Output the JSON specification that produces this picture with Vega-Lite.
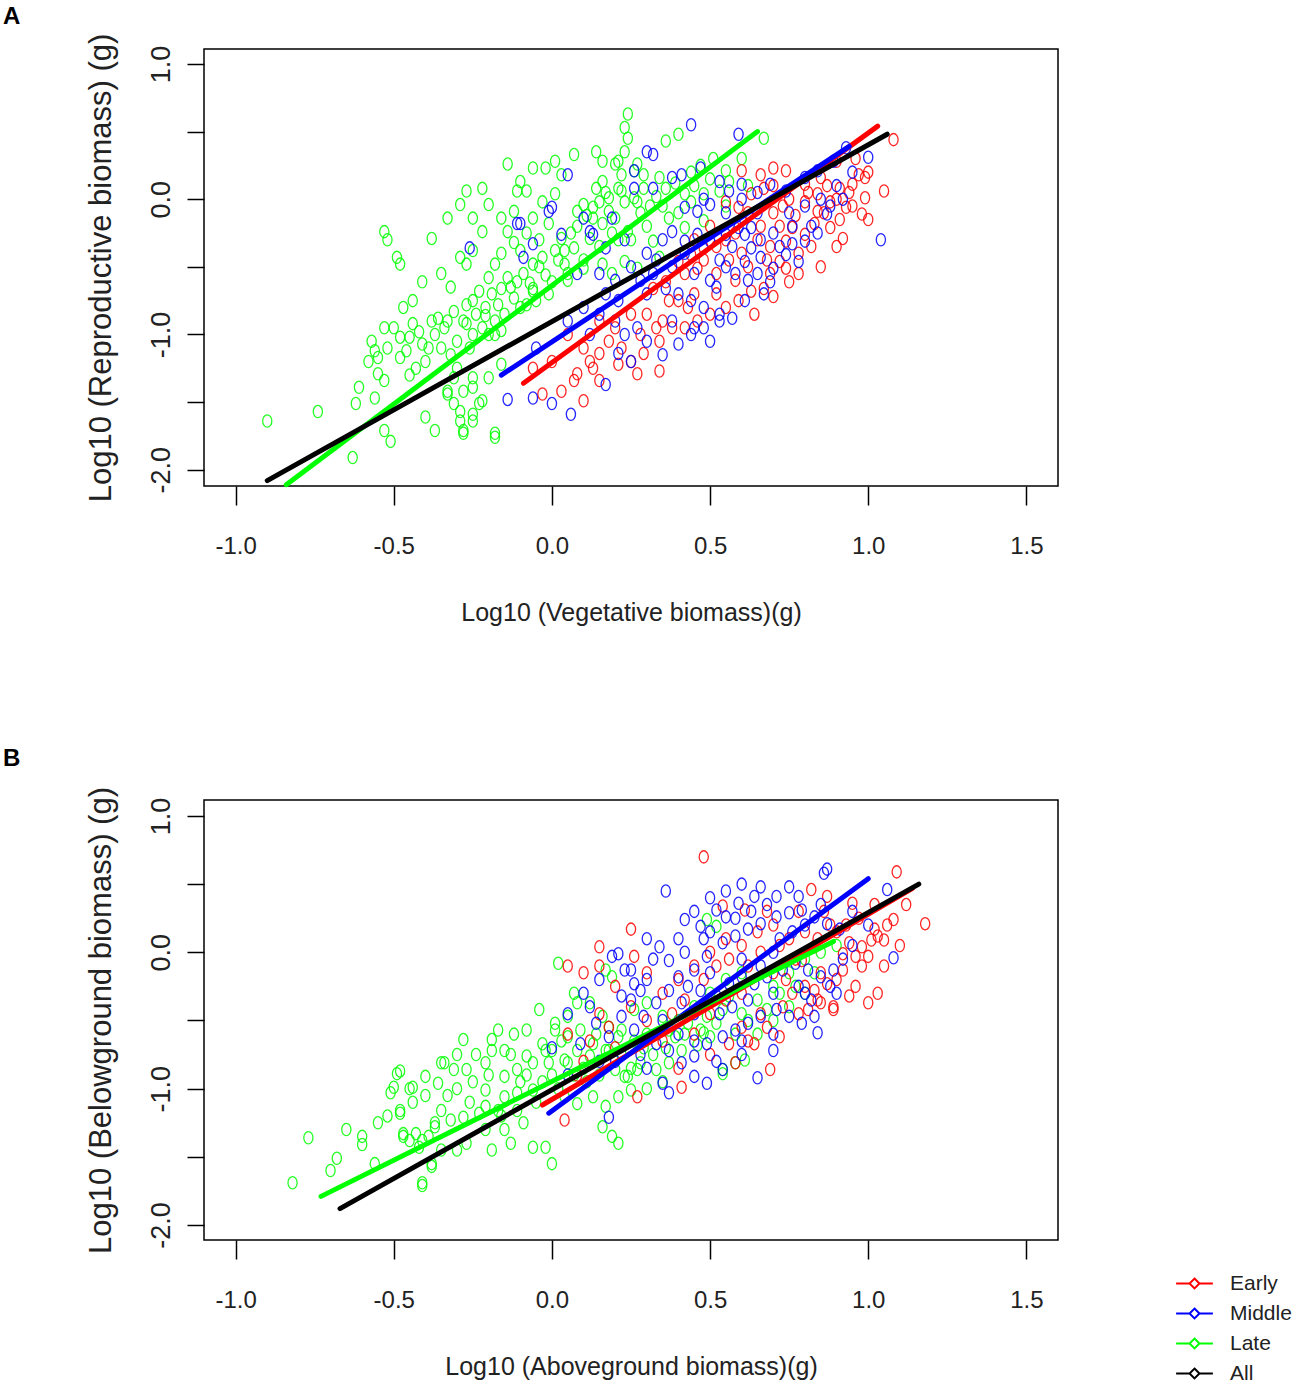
{
"$schema":"https://vega.github.io/schema/vega-lite/v6.json",
"background":"white",
"padding":{"left":2,"top":4,"right":4,"bottom":4},
"spacing":119,
"config":{
 "view":{"stroke":"black","strokeWidth":1.5},
 "axis":{"grid":false,"domain":false,"tickColor":"black","tickWidth":1.5,"labelColor":"#222","titleColor":"#222","titleFontWeight":"normal"},
 "title":{"anchor":"start","frame":"group","fontWeight":"bold","font":"Liberation Sans","fontSize":24,"color":"black","offset":4}
},
"resolve":{"scale":{"color":"independent"},"legend":{"color":"independent"}},
"datasets":{
"linA":[{"g":"E","x":-0.09,"y":-1.36},{"g":"E","x":1.03,"y":0.54},{"g":"M","x":-0.16,"y":-1.3},{"g":"M","x":0.94,"y":0.39},{"g":"L","x":-0.84,"y":-2.11},{"g":"L","x":0.65,"y":0.5},{"g":"A","x":-0.9,"y":-2.08},{"g":"A","x":1.06,"y":0.48}],
"linB":[{"g":"E","x":-0.03,"y":-1.12},{"g":"E","x":1.14,"y":0.47},{"g":"M","x":-0.01,"y":-1.18},{"g":"M","x":1.0,"y":0.54},{"g":"L","x":-0.73,"y":-1.79},{"g":"L","x":0.89,"y":0.08},{"g":"A","x":-0.67,"y":-1.88},{"g":"A","x":1.16,"y":0.5}],
"ptsA":[
{"g":"L","x":-0.9,"y":-1.64},{"g":"L","x":-0.74,"y":-1.57},{"g":"L","x":-0.63,"y":-1.91},{"g":"L","x":-0.53,"y":-0.24},{"g":"L","x":-0.52,"y":-0.3},{"g":"L","x":-0.49,"y":-0.43},{"g":"L","x":-0.48,"y":-0.48},{"g":"L","x":-0.61,"y":-1.39},{"g":"L","x":-0.62,"y":-1.51},{"g":"L","x":-0.53,"y":-1.71},{"g":"L","x":-0.51,"y":-1.79},{"g":"L","x":-0.53,"y":-0.95},{"g":"L","x":-0.5,"y":-0.95},{"g":"L","x":-0.56,"y":-1.12},{"g":"L","x":-0.55,"y":-1.17},{"g":"L","x":-0.52,"y":-1.1},{"g":"L","x":-0.55,"y":-1.29},{"g":"L","x":-0.53,"y":-1.34},{"g":"L","x":-0.56,"y":-1.47},{"g":"L","x":-0.48,"y":-1.17},{"g":"L","x":-0.45,"y":-1.02},{"g":"L","x":-0.48,"y":-1.02},{"g":"L","x":-0.43,"y":-1.25},{"g":"L","x":-0.41,"y":-1.07},{"g":"L","x":-0.39,"y":-1.1},{"g":"L","x":-0.41,"y":-0.61},{"g":"L","x":-0.38,"y":-0.29},{"g":"L","x":-0.33,"y":-0.14},{"g":"L","x":-0.38,"y":-0.9},{"g":"L","x":-0.36,"y":-0.88},{"g":"L","x":-0.33,"y":-0.9},{"g":"L","x":-0.31,"y":-0.83},{"g":"L","x":-0.4,"y":-1.61},{"g":"L","x":-0.37,"y":-1.71},{"g":"L","x":-0.33,"y":-1.44},{"g":"L","x":-0.31,"y":-1.51},{"g":"L","x":-0.29,"y":-1.64},{"g":"L","x":-0.28,"y":-1.71},{"g":"L","x":-0.25,"y":-1.59},{"g":"L","x":-0.23,"y":-1.51},{"g":"L","x":-0.18,"y":-1.76},{"g":"L","x":-0.29,"y":-0.04},{"g":"L","x":-0.27,"y":0.06},{"g":"L","x":-0.22,"y":0.08},{"g":"L","x":-0.2,"y":-0.04},{"g":"L","x":-0.25,"y":-0.14},{"g":"L","x":-0.22,"y":-0.24},{"g":"L","x":-0.29,"y":-0.43},{"g":"L","x":-0.27,"y":-0.48},{"g":"L","x":-0.25,"y":-0.38},{"g":"L","x":-0.23,"y":-0.68},{"g":"L","x":-0.27,"y":-0.78},{"g":"L","x":-0.21,"y":-0.8},{"g":"L","x":-0.18,"y":-0.9},{"g":"L","x":-0.16,"y":-0.97},{"g":"L","x":-0.2,"y":-1.0},{"g":"L","x":-0.16,"y":-0.14},{"g":"L","x":-0.14,"y":-0.24},{"g":"L","x":-0.12,"y":-0.09},{"g":"L","x":-0.11,"y":0.06},{"g":"L","x":-0.14,"y":0.26},{"g":"L","x":-0.1,"y":0.13},{"g":"L","x":-0.06,"y":0.23},{"g":"L","x":-0.02,"y":0.23},{"g":"L","x":0.01,"y":0.28},{"g":"L","x":0.03,"y":0.18},{"g":"L","x":0.07,"y":0.33},{"g":"L","x":0.14,"y":0.35},{"g":"L","x":0.16,"y":0.28},{"g":"L","x":0.2,"y":0.26},{"g":"L","x":0.24,"y":0.63},{"g":"L","x":0.23,"y":0.53},{"g":"L","x":0.24,"y":0.45},{"g":"L","x":0.23,"y":0.35},{"g":"L","x":-0.08,"y":0.06},{"g":"L","x":-0.03,"y":-0.02},{"g":"L","x":0.01,"y":0.04},{"g":"L","x":-0.06,"y":-0.14},{"g":"L","x":-0.01,"y":-0.18},{"g":"L","x":0.03,"y":-0.29},{"g":"L","x":-0.1,"y":-0.38},{"g":"L","x":-0.06,"y":-0.48},{"g":"L","x":-0.03,"y":-0.43},{"g":"L","x":0.01,"y":-0.38},{"g":"L","x":0.04,"y":-0.48},{"g":"L","x":0.07,"y":-0.36},{"g":"L","x":-0.18,"y":-0.48},{"g":"L","x":-0.2,"y":-0.58},{"g":"L","x":-0.14,"y":-0.58},{"g":"L","x":-0.12,"y":-0.73},{"g":"L","x":-0.08,"y":-0.78},{"g":"L","x":-0.06,"y":-0.68},{"g":"L","x":-0.01,"y":-0.7},{"g":"L","x":0.1,"y":-0.04},{"g":"L","x":0.14,"y":0.08},{"g":"L","x":0.18,"y":0.01},{"g":"L","x":0.22,"y":0.06},{"g":"L","x":0.26,"y":0.01},{"g":"L","x":0.29,"y":0.08},{"g":"L","x":0.22,"y":0.18},{"g":"L","x":0.26,"y":0.21},{"g":"L","x":0.12,"y":-0.29},{"g":"L","x":0.16,"y":-0.18},{"g":"L","x":0.2,"y":-0.14},{"g":"L","x":0.24,"y":-0.24},{"g":"L","x":-0.16,"y":-1.22},{"g":"L","x":-0.2,"y":-1.32},{"g":"L","x":-0.25,"y":-1.32},{"g":"L","x":-0.31,"y":-1.32},{"g":"L","x":-0.33,"y":-1.42},{"g":"L","x":-0.28,"y":-1.42},{"g":"L","x":0.36,"y":0.43},{"g":"L","x":0.4,"y":0.48},{"g":"L","x":0.67,"y":0.45},{"g":"L","x":0.21,"y":0.28},{"g":"L","x":0.27,"y":0.26},{"g":"L","x":0.29,"y":0.18},{"g":"L","x":0.34,"y":0.16},{"g":"L","x":0.55,"y":0.21},{"g":"L","x":0.16,"y":0.13},{"g":"L","x":0.21,"y":0.08},{"g":"L","x":0.23,"y":-0.02},{"g":"L","x":0.27,"y":-0.02},{"g":"L","x":0.08,"y":-0.09},{"g":"L","x":0.13,"y":-0.14},{"g":"L","x":0.18,"y":-0.09},{"g":"L","x":0.42,"y":0.04},{"g":"L","x":0.44,"y":-0.02},{"g":"L","x":0.48,"y":0.04},{"g":"L","x":0.53,"y":0.06},{"g":"L","x":0.56,"y":0.13},{"g":"L","x":0.37,"y":-0.14},{"g":"L","x":0.42,"y":-0.21},{"g":"L","x":0.48,"y":-0.16},{"g":"L","x":0.32,"y":-0.31},{"g":"L","x":0.34,"y":-0.43},{"g":"L","x":0.23,"y":-0.46},{"g":"L","x":0.27,"y":-0.51},{"g":"L","x":0.19,"y":-0.55},{"g":"L","x":-0.25,"y":-0.75},{"g":"L","x":-0.21,"y":-0.86},{"g":"L","x":-0.28,"y":-0.9},{"g":"L","x":-0.22,"y":-0.95},{"g":"L","x":-0.18,"y":-1.0},{"g":"L","x":-0.16,"y":-0.66},{"g":"L","x":-0.11,"y":-0.61},{"g":"L","x":-0.06,"y":-0.66},{"g":"L","x":0.0,"y":-0.61},{"g":"L","x":0.05,"y":-0.55},{"g":"L","x":0.1,"y":-0.51},{"g":"L","x":0.16,"y":-0.48},{"g":"L","x":-0.3,"y":-1.25},{"g":"L","x":-0.25,"y":-1.39},{"g":"L","x":-0.22,"y":-1.49},{"g":"L","x":-0.29,"y":-1.57},{"g":"L","x":-0.25,"y":-1.64},{"g":"L","x":-0.28,"y":-1.73},{"g":"L","x":-0.18,"y":-1.73},{"g":"L","x":-0.45,"y":-1.3},{"g":"L","x":-0.4,"y":-1.2},{"g":"L","x":-0.35,"y":-1.1},{"g":"L","x":-0.3,"y":-1.05},{"g":"L","x":-0.25,"y":-1.0},{"g":"L","x":-0.15,"y":-0.85},{"g":"L","x":-0.1,"y":-0.8},{"g":"L","x":-0.05,"y":-0.75},{"g":"L","x":0.05,"y":-0.6},{"g":"L","x":0.1,"y":-0.45},{"g":"L","x":0.15,"y":-0.35},{"g":"L","x":0.25,"y":-0.3},{"g":"L","x":0.3,"y":-0.2},{"g":"L","x":0.35,"y":-0.05},{"g":"L","x":0.4,"y":-0.1},{"g":"L","x":0.45,"y":0.1},{"g":"L","x":0.5,"y":0.15},{"g":"L","x":0.6,"y":0.3},{"g":"L","x":0.55,"y":-0.05},{"g":"L","x":0.62,"y":0.1},
{"g":"L","x":-0.58,"y":-1.2},{"g":"L","x":-0.57,"y":-1.05},{"g":"L","x":-0.46,"y":-1.12},{"g":"L","x":-0.44,"y":-0.92},{"g":"L","x":-0.42,"y":-0.98},{"g":"L","x":-0.37,"y":-1.0},{"g":"L","x":-0.34,"y":-0.95},{"g":"L","x":-0.32,"y":-1.15},{"g":"L","x":-0.27,"y":-0.92},{"g":"L","x":-0.26,"y":-1.1},{"g":"L","x":-0.24,"y":-0.85},{"g":"L","x":-0.19,"y":-0.7},{"g":"L","x":-0.17,"y":-0.78},{"g":"L","x":-0.13,"y":-0.65},{"g":"L","x":-0.09,"y":-0.55},{"g":"L","x":-0.07,"y":-0.62},{"g":"L","x":-0.04,"y":-0.5},{"g":"L","x":-0.02,"y":-0.56},{"g":"L","x":0.02,"y":-0.45},{"g":"L","x":0.04,"y":-0.38},{"g":"L","x":0.06,"y":-0.25},{"g":"L","x":0.08,"y":-0.2},{"g":"L","x":0.11,"y":-0.12},{"g":"L","x":0.13,"y":-0.06},{"g":"L","x":0.15,"y":-0.02},{"g":"L","x":0.17,"y":0.05},{"g":"L","x":0.19,"y":-0.25},{"g":"L","x":0.21,"y":-0.3},{"g":"L","x":0.28,"y":-0.1},{"g":"L","x":0.31,"y":-0.05},{"g":"L","x":0.33,"y":0.02},{"g":"L","x":0.36,"y":0.08},{"g":"L","x":0.39,"y":0.12},{"g":"L","x":0.44,"y":0.2},{"g":"L","x":0.47,"y":0.25},{"g":"L","x":0.51,"y":0.3},{"g":"L","x":-0.12,"y":-0.32},{"g":"L","x":-0.08,"y":-0.25},{"g":"L","x":-0.04,"y":-0.3},{"g":"L","x":-0.16,"y":-0.4},{"g":"L","x":-0.35,"y":-0.55},{"g":"L","x":-0.32,"y":-0.65},{"g":"L","x":-0.44,"y":-0.75},{"g":"L","x":-0.47,"y":-0.8},
{"g":"E","x":1.08,"y":0.44},{"g":"E","x":1.05,"y":0.06},{"g":"E","x":0.99,"y":0.01},{"g":"E","x":0.98,"y":-0.11},{"g":"E","x":0.88,"y":-0.21},{"g":"E","x":0.92,"y":-0.29},{"g":"E","x":0.95,"y":0.11},{"g":"E","x":0.99,"y":0.16},{"g":"E","x":0.97,"y":0.18},{"g":"E","x":0.91,"y":0.08},{"g":"E","x":0.85,"y":0.16},{"g":"E","x":0.84,"y":0.04},{"g":"E","x":0.6,"y":0.21},{"g":"E","x":0.66,"y":0.18},{"g":"E","x":0.7,"y":0.23},{"g":"E","x":0.74,"y":0.21},{"g":"E","x":0.8,"y":0.11},{"g":"E","x":0.72,"y":-0.46},{"g":"E","x":0.74,"y":-0.51},{"g":"E","x":0.75,"y":-0.61},{"g":"E","x":0.69,"y":-0.55},{"g":"E","x":0.67,"y":-0.66},{"g":"E","x":0.63,"y":-0.68},{"g":"E","x":0.59,"y":-0.75},{"g":"E","x":0.55,"y":-0.8},{"g":"E","x":0.5,"y":-0.85},{"g":"E","x":0.46,"y":-0.9},{"g":"E","x":0.42,"y":-0.95},{"g":"E","x":0.38,"y":-0.95},{"g":"E","x":0.34,"y":-1.05},{"g":"E","x":0.29,"y":-1.14},{"g":"E","x":0.25,"y":-1.2},{"g":"E","x":0.21,"y":-1.22},{"g":"E","x":0.27,"y":-1.29},{"g":"E","x":0.34,"y":-1.27},{"g":"E","x":0.15,"y":-1.14},{"g":"E","x":0.13,"y":-1.25},{"g":"E","x":0.08,"y":-1.29},{"g":"E","x":0.15,"y":-1.34},{"g":"E","x":0.03,"y":-1.42},{"g":"E","x":0.1,"y":-1.49},{"g":"E","x":0.07,"y":-1.34},{"g":"E","x":-0.03,"y":-1.44},{"g":"E","x":-0.06,"y":-1.25},{"g":"E","x":0.32,"y":-0.66},{"g":"E","x":0.36,"y":-0.61},{"g":"E","x":0.42,"y":-0.55},{"g":"E","x":0.46,"y":-0.51},{"g":"E","x":0.4,"y":-0.46},{"g":"E","x":0.44,"y":-0.41},{"g":"E","x":0.48,"y":-0.36},{"g":"E","x":0.55,"y":-0.02},{"g":"E","x":0.59,"y":-0.06},{"g":"E","x":0.63,"y":0.04},{"g":"E","x":0.67,"y":0.08},{"g":"E","x":0.8,"y":-0.02},{"g":"E","x":0.84,"y":-0.09},{"g":"E","x":0.88,"y":-0.02},{"g":"E","x":0.93,"y":-0.06},{"g":"E","x":0.76,"y":-0.21},{"g":"E","x":0.8,"y":-0.26},{"g":"E","x":0.74,"y":-0.31},{"g":"E","x":0.5,"y":-0.2},{"g":"E","x":0.55,"y":-0.3},{"g":"E","x":0.6,"y":-0.4},{"g":"E","x":0.65,"y":-0.3},{"g":"E","x":0.7,"y":-0.1},{"g":"E","x":0.75,"y":0.0},{"g":"E","x":0.78,"y":-0.4},{"g":"E","x":0.82,"y":-0.35},{"g":"E","x":0.86,"y":-0.1},{"g":"E","x":0.9,"y":0.0},{"g":"E","x":0.6,"y":-0.15},{"g":"E","x":0.52,"y":-0.55},{"g":"E","x":0.4,"y":-0.75},{"g":"E","x":0.45,"y":-0.7},{"g":"E","x":0.3,"y":-0.85},{"g":"E","x":0.35,"y":-0.9},{"g":"E","x":0.2,"y":-0.95},{"g":"E","x":0.25,"y":-0.85},{"g":"E","x":0.1,"y":-1.1},{"g":"E","x":0.05,"y":-1.0},{"g":"E","x":0.15,"y":-0.9},{"g":"E","x":0.0,"y":-1.2},{"g":"E","x":0.58,"y":-0.6},{"g":"E","x":0.68,"y":-0.45},{"g":"E","x":0.72,"y":-0.2},{"g":"E","x":0.95,"y":-0.05},{"g":"E","x":1.0,"y":0.2},{"g":"E","x":0.96,"y":0.3},{"g":"E","x":0.9,"y":0.28},{"g":"E","x":0.7,"y":0.1},
{"g":"E","x":0.45,"y":-0.3},{"g":"E","x":0.48,"y":-0.45},{"g":"E","x":0.52,"y":-0.35},{"g":"E","x":0.56,"y":-0.45},{"g":"E","x":0.62,"y":-0.5},{"g":"E","x":0.66,"y":-0.2},{"g":"E","x":0.69,"y":-0.35},{"g":"E","x":0.73,"y":-0.05},{"g":"E","x":0.77,"y":-0.12},{"g":"E","x":0.81,"y":0.05},{"g":"E","x":0.83,"y":-0.18},{"g":"E","x":0.87,"y":0.1},{"g":"E","x":0.91,"y":-0.15},{"g":"E","x":0.94,"y":0.05},{"g":"E","x":0.62,"y":-0.1},{"g":"E","x":0.58,"y":-0.25},{"g":"E","x":0.43,"y":-0.8},{"g":"E","x":0.37,"y":-0.75},{"g":"E","x":0.33,"y":-0.95},{"g":"E","x":0.28,"y":-1.0},{"g":"E","x":0.22,"y":-1.1},{"g":"E","x":0.18,"y":-1.05},{"g":"E","x":0.12,"y":-1.2},{"g":"E","x":0.52,"y":-0.7},{"g":"E","x":0.64,"y":-0.85},{"g":"E","x":0.7,"y":-0.72},{"g":"E","x":0.78,"y":-0.55},{"g":"E","x":0.85,"y":-0.5},{"g":"E","x":0.9,"y":-0.35},{"g":"E","x":1.0,"y":-0.15},
{"g":"M","x":0.44,"y":0.55},{"g":"M","x":0.59,"y":0.48},{"g":"M","x":1.0,"y":0.31},{"g":"M","x":1.04,"y":-0.3},{"g":"M","x":0.87,"y":-0.11},{"g":"M","x":0.76,"y":-0.33},{"g":"M","x":-0.26,"y":-0.36},{"g":"M","x":0.05,"y":0.18},{"g":"M","x":0.26,"y":0.21},{"g":"M","x":0.26,"y":0.08},{"g":"M","x":0.32,"y":0.33},{"g":"M","x":-0.06,"y":-1.47},{"g":"M","x":0.0,"y":-1.51},{"g":"M","x":0.06,"y":-1.59},{"g":"M","x":0.17,"y":-1.37},{"g":"M","x":-0.14,"y":-1.48},{"g":"M","x":-0.11,"y":-0.18},{"g":"M","x":-0.06,"y":-0.33},{"g":"M","x":-0.09,"y":-0.43},{"g":"M","x":0.0,"y":-0.06},{"g":"M","x":0.03,"y":-0.26},{"g":"M","x":0.1,"y":-0.14},{"g":"M","x":0.19,"y":-0.14},{"g":"M","x":0.13,"y":-0.26},{"g":"M","x":0.17,"y":-0.36},{"g":"M","x":0.32,"y":0.08},{"g":"M","x":0.38,"y":0.16},{"g":"M","x":0.41,"y":0.18},{"g":"M","x":0.47,"y":0.23},{"g":"M","x":0.53,"y":0.13},{"g":"M","x":0.56,"y":0.06},{"g":"M","x":0.6,"y":0.11},{"g":"M","x":0.42,"y":-0.06},{"g":"M","x":0.46,"y":-0.09},{"g":"M","x":0.5,"y":-0.04},{"g":"M","x":0.38,"y":-0.24},{"g":"M","x":0.42,"y":-0.31},{"g":"M","x":0.46,"y":-0.26},{"g":"M","x":0.5,"y":-0.31},{"g":"M","x":0.55,"y":-0.26},{"g":"M","x":0.59,"y":-0.21},{"g":"M","x":0.63,"y":-0.21},{"g":"M","x":0.61,"y":-0.26},{"g":"M","x":0.63,"y":-0.36},{"g":"M","x":0.66,"y":-0.43},{"g":"M","x":0.7,"y":-0.51},{"g":"M","x":0.69,"y":-0.61},{"g":"M","x":0.32,"y":-0.55},{"g":"M","x":0.36,"y":-0.66},{"g":"M","x":0.4,"y":-0.7},{"g":"M","x":0.44,"y":-0.75},{"g":"M","x":0.48,"y":-0.8},{"g":"M","x":0.53,"y":-0.85},{"g":"M","x":0.57,"y":-0.88},{"g":"M","x":0.61,"y":-0.75},{"g":"M","x":0.4,"y":-1.07},{"g":"M","x":0.44,"y":-1.0},{"g":"M","x":0.48,"y":-0.95},{"g":"M","x":0.53,"y":-0.9},{"g":"M","x":0.21,"y":-1.14},{"g":"M","x":0.25,"y":-1.2},{"g":"M","x":0.23,"y":-1.0},{"g":"M","x":0.27,"y":-0.95},{"g":"M","x":0.1,"y":-0.8},{"g":"M","x":0.15,"y":-0.85},{"g":"M","x":0.17,"y":-0.7},{"g":"M","x":0.21,"y":-0.75},{"g":"M","x":0.61,"y":-0.46},{"g":"M","x":0.65,"y":-0.55},{"g":"M","x":0.74,"y":-0.41},{"g":"M","x":0.78,"y":-0.46},{"g":"M","x":0.8,"y":-0.31},{"g":"M","x":0.69,"y":0.11},{"g":"M","x":0.74,"y":0.06},{"g":"M","x":0.8,"y":0.16},{"g":"M","x":0.84,"y":0.21},{"g":"M","x":0.89,"y":0.28},{"g":"M","x":0.93,"y":0.38},{"g":"M","x":-0.1,"y":-0.18},{"g":"M","x":-0.01,"y":-0.09},{"g":"M","x":0.12,"y":-0.24},{"g":"M","x":0.3,"y":0.35},{"g":"M","x":0.3,"y":-0.4},{"g":"M","x":0.35,"y":-0.3},{"g":"M","x":0.25,"y":-0.5},{"g":"M","x":0.55,"y":-0.5},{"g":"M","x":0.65,"y":-0.1},{"g":"M","x":0.7,"y":-0.25},{"g":"M","x":0.75,"y":-0.1},{"g":"M","x":0.85,"y":0.0},{"g":"M","x":0.9,"y":0.1},{"g":"M","x":0.95,"y":0.2},{"g":"M","x":0.2,"y":-0.6},{"g":"M","x":0.05,"y":-0.9},{"g":"M","x":-0.05,"y":-1.1},{"g":"M","x":0.3,"y":-0.7},{"g":"M","x":0.52,"y":-0.65},{"g":"M","x":0.57,"y":-0.35},{"g":"M","x":0.67,"y":-0.7},{"g":"M","x":0.82,"y":-0.2},
{"g":"M","x":0.28,"y":-0.6},{"g":"M","x":0.33,"y":-0.45},{"g":"M","x":0.38,"y":-0.5},{"g":"M","x":0.42,"y":-0.4},{"g":"M","x":0.45,"y":-0.55},{"g":"M","x":0.5,"y":-0.6},{"g":"M","x":0.53,"y":-0.45},{"g":"M","x":0.58,"y":-0.55},{"g":"M","x":0.62,"y":-0.6},{"g":"M","x":0.66,"y":-0.3},{"g":"M","x":0.72,"y":-0.35},{"g":"M","x":0.76,"y":-0.2},{"g":"M","x":0.8,"y":-0.05},{"g":"M","x":0.84,"y":-0.25},{"g":"M","x":0.88,"y":-0.05},{"g":"M","x":0.92,"y":0.0},{"g":"M","x":0.55,"y":-0.1},{"g":"M","x":0.6,"y":0.0},{"g":"M","x":0.65,"y":0.05},{"g":"M","x":0.48,"y":0.0},{"g":"M","x":0.38,"y":-0.9},{"g":"M","x":0.45,"y":-0.95},{"g":"M","x":0.5,"y":-1.05},{"g":"M","x":0.35,"y":-1.15},{"g":"M","x":0.3,"y":-1.05},{"g":"M","x":0.2,"y":-0.9},{"g":"M","x":0.12,"y":-1.0},{"g":"M","x":0.08,"y":-0.55},{"g":"M","x":0.23,"y":-0.3},{"g":"M","x":0.15,"y":-0.55}
],
"ptsB":[
{"g":"L","x":-0.82,"y":-1.69},{"g":"L","x":-0.77,"y":-1.36},{"g":"L","x":-0.68,"y":-1.51},{"g":"L","x":-0.6,"y":-1.41},{"g":"L","x":-0.49,"y":-0.89},{"g":"L","x":-0.5,"y":-0.99},{"g":"L","x":-0.51,"y":-1.03},{"g":"L","x":-0.45,"y":-1.0},{"g":"L","x":-0.48,"y":-1.16},{"g":"L","x":-0.4,"y":-0.91},{"g":"L","x":-0.36,"y":-0.96},{"g":"L","x":-0.35,"y":-0.81},{"g":"L","x":-0.47,"y":-1.33},{"g":"L","x":-0.43,"y":-1.33},{"g":"L","x":-0.45,"y":-1.38},{"g":"L","x":-0.41,"y":-1.38},{"g":"L","x":-0.37,"y":-1.28},{"g":"L","x":-0.35,"y":-1.16},{"g":"L","x":-0.38,"y":-1.55},{"g":"L","x":-0.41,"y":-1.69},{"g":"L","x":-0.56,"y":-1.55},{"g":"L","x":-0.48,"y":-0.87},{"g":"L","x":-0.44,"y":-0.99},{"g":"L","x":-0.48,"y":-1.18},{"g":"L","x":-0.34,"y":-0.81},{"g":"L","x":-0.31,"y":-0.86},{"g":"L","x":-0.37,"y":-1.25},{"g":"L","x":-0.32,"y":-1.23},{"g":"L","x":-0.28,"y":-1.21},{"g":"L","x":-0.23,"y":-1.18},{"g":"L","x":-0.47,"y":-1.35},{"g":"L","x":-0.42,"y":-1.43},{"g":"L","x":-0.39,"y":-1.35},{"g":"L","x":-0.35,"y":-1.45},{"g":"L","x":-0.41,"y":-1.71},{"g":"L","x":-0.38,"y":-1.57},{"g":"L","x":-0.3,"y":-1.45},{"g":"L","x":-0.27,"y":-1.4},{"g":"L","x":-0.28,"y":-0.64},{"g":"L","x":-0.19,"y":-0.64},{"g":"L","x":-0.17,"y":-0.57},{"g":"L","x":-0.19,"y":-0.72},{"g":"L","x":-0.15,"y":-0.72},{"g":"L","x":-0.27,"y":-0.86},{"g":"L","x":-0.21,"y":-0.81},{"g":"L","x":-0.15,"y":-0.91},{"g":"L","x":-0.11,"y":-0.86},{"g":"L","x":-0.06,"y":-0.81},{"g":"L","x":-0.02,"y":-0.72},{"g":"L","x":-0.21,"y":-1.01},{"g":"L","x":-0.15,"y":-1.06},{"g":"L","x":-0.11,"y":-1.03},{"g":"L","x":-0.06,"y":-1.01},{"g":"L","x":-0.21,"y":-1.13},{"g":"L","x":-0.17,"y":-1.16},{"g":"L","x":-0.11,"y":-1.16},{"g":"L","x":-0.21,"y":-1.3},{"g":"L","x":-0.15,"y":-1.3},{"g":"L","x":-0.09,"y":-1.25},{"g":"L","x":-0.19,"y":-1.45},{"g":"L","x":-0.13,"y":-1.4},{"g":"L","x":-0.06,"y":-1.43},{"g":"L","x":-0.02,"y":-1.43},{"g":"L","x":0.0,"y":-1.55},{"g":"L","x":-0.04,"y":-0.42},{"g":"L","x":0.01,"y":-0.57},{"g":"L","x":0.05,"y":-0.47},{"g":"L","x":0.08,"y":-0.37},{"g":"L","x":0.07,"y":-0.3},{"g":"L","x":0.02,"y":-0.08},{"g":"L","x":0.0,"y":-0.72},{"g":"L","x":0.04,"y":-0.79},{"g":"L","x":0.08,"y":-0.72},{"g":"L","x":0.13,"y":-0.67},{"g":"L","x":0.17,"y":-0.72},{"g":"L","x":0.21,"y":-0.62},{"g":"L","x":0.04,"y":-1.06},{"g":"L","x":0.08,"y":-1.11},{"g":"L","x":0.13,"y":-1.06},{"g":"L","x":0.17,"y":-1.13},{"g":"L","x":0.21,"y":-1.06},{"g":"L","x":0.25,"y":-1.01},{"g":"L","x":0.16,"y":-1.28},{"g":"L","x":0.19,"y":-1.35},{"g":"L","x":0.21,"y":-1.4},{"g":"L","x":0.23,"y":-0.91},{"g":"L","x":0.27,"y":-0.86},{"g":"L","x":0.12,"y":-0.37},{"g":"L","x":0.16,"y":-0.47},{"g":"L","x":0.17,"y":-0.13},{"g":"L","x":0.19,"y":-0.18},{"g":"L","x":-0.08,"y":-0.57},{"g":"L","x":-0.03,"y":-0.67},{"g":"L","x":0.01,"y":-0.52},{"g":"L","x":0.05,"y":-0.62},{"g":"L","x":0.09,"y":-0.57},{"g":"L","x":-0.08,"y":-0.76},{"g":"L","x":-0.01,"y":-0.81},{"g":"L","x":0.05,"y":-0.81},{"g":"L","x":0.12,"y":-0.76},{"g":"L","x":0.18,"y":-0.72},{"g":"L","x":0.2,"y":-0.86},{"g":"L","x":0.24,"y":-0.91},{"g":"L","x":0.28,"y":-0.81},{"g":"L","x":0.33,"y":-0.86},{"g":"L","x":0.37,"y":-0.81},{"g":"L","x":0.41,"y":-0.72},{"g":"L","x":0.37,"y":-0.57},{"g":"L","x":0.43,"y":-0.52},{"g":"L","x":0.47,"y":-0.57},{"g":"L","x":0.49,"y":-0.47},{"g":"L","x":0.54,"y":-0.42},{"g":"L","x":0.56,"y":-0.32},{"g":"L","x":0.54,"y":-0.86},{"g":"L","x":0.58,"y":-0.81},{"g":"L","x":0.26,"y":-0.42},{"g":"L","x":0.3,"y":-0.37},{"g":"L","x":0.35,"y":-0.47},{"g":"L","x":0.22,"y":-0.57},{"g":"L","x":0.49,"y":0.24},{"g":"L","x":0.52,"y":0.19},{"g":"L","x":0.54,"y":-0.89},{"g":"L","x":0.61,"y":-0.79},{"g":"L","x":0.48,"y":-0.59},{"g":"L","x":0.7,"y":-0.25},{"g":"L","x":0.75,"y":-0.15},{"g":"L","x":0.8,"y":-0.05},{"g":"L","x":0.85,"y":0.0},{"g":"L","x":0.9,"y":0.05},{"g":"L","x":0.65,"y":-0.35},{"g":"L","x":0.6,"y":-0.45},{"g":"L","x":-0.3,"y":-1.0},{"g":"L","x":-0.25,"y":-0.95},{"g":"L","x":-0.1,"y":-0.95},{"g":"L","x":0.0,"y":-0.9},{"g":"L","x":0.1,"y":-0.85},{"g":"L","x":0.3,"y":-0.6},{"g":"L","x":0.4,"y":-0.5},{"g":"L","x":0.45,"y":-0.4},{"g":"L","x":0.5,"y":-0.3},{"g":"L","x":0.55,"y":-0.2},{"g":"L","x":0.6,"y":-0.15},{"g":"L","x":0.65,"y":-0.6},{"g":"L","x":0.7,"y":-0.5},{"g":"L","x":0.75,"y":-0.4},{"g":"L","x":0.8,"y":-0.3},{"g":"L","x":0.3,"y":-1.0},{"g":"L","x":0.35,"y":-0.95},{"g":"L","x":-0.55,"y":-1.25},{"g":"L","x":-0.65,"y":-1.3},
{"g":"L","x":-0.52,"y":-1.2},{"g":"L","x":-0.44,"y":-1.1},{"g":"L","x":-0.4,"y":-1.05},{"g":"L","x":-0.33,"y":-1.05},{"g":"L","x":-0.26,"y":-1.1},{"g":"L","x":-0.24,"y":-0.75},{"g":"L","x":-0.2,"y":-0.9},{"g":"L","x":-0.16,"y":-1.2},{"g":"L","x":-0.13,"y":-0.75},{"g":"L","x":-0.08,"y":-0.9},{"g":"L","x":-0.05,"y":-1.1},{"g":"L","x":-0.03,"y":-0.95},{"g":"L","x":0.02,"y":-1.0},{"g":"L","x":0.03,"y":-0.65},{"g":"L","x":0.07,"y":-0.9},{"g":"L","x":0.11,"y":-0.95},{"g":"L","x":0.14,"y":-0.6},{"g":"L","x":0.18,"y":-0.55},{"g":"L","x":0.22,"y":-0.75},{"g":"L","x":0.26,"y":-0.65},{"g":"L","x":0.29,"y":-0.7},{"g":"L","x":0.32,"y":-0.75},{"g":"L","x":0.36,"y":-0.7},{"g":"L","x":0.39,"y":-0.62},{"g":"L","x":0.42,"y":-0.6},{"g":"L","x":0.46,"y":-0.68},{"g":"L","x":0.5,"y":-0.62},{"g":"L","x":0.52,"y":-0.52},{"g":"L","x":0.58,"y":-0.6},{"g":"L","x":0.62,"y":-0.5},{"g":"L","x":0.68,"y":-0.42},{"g":"L","x":0.72,"y":-0.3},{"g":"L","x":0.77,"y":-0.25},{"g":"L","x":0.83,"y":-0.15},{"g":"L","x":0.25,"y":-0.85},{"g":"L","x":0.15,"y":-0.9},{"g":"L","x":-0.12,"y":-0.6},{"g":"L","x":-0.3,"y":-0.75},{"g":"L","x":-0.6,"y":-1.35},{"g":"L","x":-0.7,"y":-1.6},
{"g":"E","x":0.48,"y":0.7},{"g":"E","x":0.25,"y":0.17},{"g":"E","x":0.05,"y":-0.1},{"g":"E","x":0.15,"y":0.04},{"g":"E","x":0.15,"y":-0.1},{"g":"E","x":0.26,"y":-0.03},{"g":"E","x":1.09,"y":0.59},{"g":"E","x":1.08,"y":0.24},{"g":"E","x":1.18,"y":0.21},{"g":"E","x":1.01,"y":0.09},{"g":"E","x":1.03,"y":0.12},{"g":"E","x":1.05,"y":0.09},{"g":"E","x":1.02,"y":0.17},{"g":"E","x":1.03,"y":-0.3},{"g":"E","x":1.0,"y":-0.37},{"g":"E","x":0.69,"y":-0.86},{"g":"E","x":0.41,"y":-0.99},{"g":"E","x":0.27,"y":-1.06},{"g":"E","x":0.58,"y":-0.81},{"g":"E","x":0.56,"y":-0.67},{"g":"E","x":0.64,"y":-0.67},{"g":"E","x":0.81,"y":-0.42},{"g":"E","x":0.85,"y":-0.37},{"g":"E","x":0.89,"y":-0.42},{"g":"E","x":0.94,"y":-0.32},{"g":"E","x":0.96,"y":-0.25},{"g":"E","x":0.87,"y":-0.23},{"g":"E","x":0.92,"y":-0.13},{"g":"E","x":0.83,"y":-0.28},{"g":"E","x":0.94,"y":0.07},{"g":"E","x":0.96,"y":-0.03},{"g":"E","x":0.98,"y":0.04},{"g":"E","x":1.0,"y":-0.03},{"g":"E","x":0.92,"y":-0.01},{"g":"E","x":0.89,"y":-0.4},{"g":"E","x":0.98,"y":-0.1},{"g":"E","x":0.84,"y":-0.35},{"g":"E","x":0.8,"y":-0.25},{"g":"E","x":0.79,"y":-0.06},{"g":"E","x":0.83,"y":0.04},{"g":"E","x":0.54,"y":0.34},{"g":"E","x":0.61,"y":0.31},{"g":"E","x":0.82,"y":0.46},{"g":"E","x":0.87,"y":0.41},{"g":"E","x":0.95,"y":0.36},{"g":"E","x":0.66,"y":-0.45},{"g":"E","x":0.73,"y":-0.4},{"g":"E","x":0.76,"y":-0.3},{"g":"E","x":0.04,"y":-1.23},{"g":"E","x":0.1,"y":-0.15},{"g":"E","x":0.2,"y":-0.25},{"g":"E","x":0.35,"y":-0.3},{"g":"E","x":0.4,"y":-0.2},{"g":"E","x":0.45,"y":-0.1},{"g":"E","x":0.5,"y":0.0},{"g":"E","x":0.55,"y":0.1},{"g":"E","x":0.6,"y":0.05},{"g":"E","x":0.65,"y":0.15},{"g":"E","x":0.7,"y":0.2},{"g":"E","x":0.75,"y":0.1},{"g":"E","x":0.7,"y":-0.15},{"g":"E","x":0.6,"y":-0.3},{"g":"E","x":0.5,"y":-0.45},{"g":"E","x":0.45,"y":-0.6},{"g":"E","x":0.35,"y":-0.65},{"g":"E","x":0.3,"y":-0.5},{"g":"E","x":0.2,"y":-0.7},{"g":"E","x":0.1,"y":-0.8},{"g":"E","x":0.05,"y":-0.6},{"g":"E","x":0.15,"y":-0.45},{"g":"E","x":0.4,"y":-0.85},{"g":"E","x":0.5,"y":-0.75},{"g":"E","x":0.6,"y":-0.55},{"g":"E","x":0.72,"y":-0.62},{"g":"E","x":0.85,"y":-0.15},{"g":"E","x":0.9,"y":0.15},{"g":"E","x":1.05,"y":-0.1},{"g":"E","x":1.1,"y":0.05},{"g":"E","x":1.12,"y":0.35},{"g":"E","x":0.78,"y":0.3},{"g":"E","x":0.88,"y":0.2},
{"g":"E","x":0.3,"y":-0.15},{"g":"E","x":0.38,"y":-0.45},{"g":"E","x":0.42,"y":-0.35},{"g":"E","x":0.48,"y":-0.2},{"g":"E","x":0.52,"y":-0.1},{"g":"E","x":0.56,"y":-0.05},{"g":"E","x":0.62,"y":-0.1},{"g":"E","x":0.66,"y":0.0},{"g":"E","x":0.68,"y":0.3},{"g":"E","x":0.72,"y":0.05},{"g":"E","x":0.77,"y":-0.05},{"g":"E","x":0.8,"y":0.15},{"g":"E","x":0.84,"y":0.1},{"g":"E","x":0.86,"y":0.3},{"g":"E","x":0.9,"y":-0.2},{"g":"E","x":0.93,"y":0.2},{"g":"E","x":0.97,"y":0.25},{"g":"E","x":1.02,"y":0.35},{"g":"E","x":1.06,"y":0.2},{"g":"E","x":0.74,"y":-0.2},{"g":"E","x":0.78,"y":-0.45},{"g":"E","x":0.55,"y":-0.35},{"g":"E","x":0.62,"y":-0.65},{"g":"E","x":0.68,"y":-0.55},{"g":"E","x":0.25,"y":-0.4},{"g":"E","x":0.18,"y":-0.55},{"g":"E","x":0.12,"y":-0.65},{"g":"E","x":0.08,"y":-0.9},
{"g":"M","x":0.36,"y":0.45},{"g":"M","x":0.86,"y":0.58},{"g":"M","x":0.87,"y":0.61},{"g":"M","x":1.06,"y":0.46},{"g":"M","x":1.08,"y":-0.04},{"g":"M","x":0.84,"y":-0.59},{"g":"M","x":0.7,"y":-0.72},{"g":"M","x":0.42,"y":0.24},{"g":"M","x":0.47,"y":0.19},{"g":"M","x":0.52,"y":0.31},{"g":"M","x":0.55,"y":0.26},{"g":"M","x":0.59,"y":0.36},{"g":"M","x":0.64,"y":0.41},{"g":"M","x":0.66,"y":0.48},{"g":"M","x":0.71,"y":0.41},{"g":"M","x":0.75,"y":0.48},{"g":"M","x":0.78,"y":0.41},{"g":"M","x":0.19,"y":-0.03},{"g":"M","x":0.25,"y":-0.13},{"g":"M","x":0.34,"y":0.04},{"g":"M","x":0.37,"y":-0.06},{"g":"M","x":0.4,"y":-0.18},{"g":"M","x":0.45,"y":-0.13},{"g":"M","x":0.49,"y":-0.03},{"g":"M","x":0.54,"y":0.07},{"g":"M","x":0.58,"y":0.12},{"g":"M","x":0.62,"y":0.17},{"g":"M","x":0.66,"y":0.21},{"g":"M","x":0.71,"y":0.26},{"g":"M","x":0.75,"y":0.29},{"g":"M","x":0.79,"y":0.31},{"g":"M","x":0.83,"y":0.26},{"g":"M","x":0.87,"y":0.21},{"g":"M","x":0.91,"y":0.17},{"g":"M","x":0.22,"y":-0.32},{"g":"M","x":0.28,"y":-0.28},{"g":"M","x":0.33,"y":-0.37},{"g":"M","x":0.37,"y":-0.28},{"g":"M","x":0.41,"y":-0.37},{"g":"M","x":0.47,"y":-0.28},{"g":"M","x":0.52,"y":-0.32},{"g":"M","x":0.56,"y":-0.23},{"g":"M","x":0.6,"y":-0.18},{"g":"M","x":0.64,"y":-0.23},{"g":"M","x":0.68,"y":-0.18},{"g":"M","x":0.73,"y":-0.13},{"g":"M","x":0.77,"y":-0.08},{"g":"M","x":0.81,"y":-0.13},{"g":"M","x":0.85,"y":-0.18},{"g":"M","x":0.89,"y":-0.13},{"g":"M","x":0.33,"y":-0.67},{"g":"M","x":0.37,"y":-0.72},{"g":"M","x":0.41,"y":-0.81},{"g":"M","x":0.45,"y":-0.76},{"g":"M","x":0.49,"y":-0.67},{"g":"M","x":0.54,"y":-0.62},{"g":"M","x":0.58,"y":-0.57},{"g":"M","x":0.62,"y":-0.52},{"g":"M","x":0.66,"y":-0.47},{"g":"M","x":0.71,"y":-0.42},{"g":"M","x":0.75,"y":-0.47},{"g":"M","x":0.79,"y":-0.52},{"g":"M","x":0.83,"y":-0.47},{"g":"M","x":0.35,"y":-0.96},{"g":"M","x":0.37,"y":-1.03},{"g":"M","x":0.45,"y":-0.91},{"g":"M","x":0.49,"y":-0.96},{"g":"M","x":0.54,"y":-0.86},{"g":"M","x":0.22,"y":-0.47},{"g":"M","x":0.26,"y":-0.57},{"g":"M","x":0.18,"y":-0.62},{"g":"M","x":0.14,"y":-0.52},{"g":"M","x":0.09,"y":-0.67},{"g":"M","x":0.18,"y":-1.21},{"g":"M","x":0.21,"y":-0.01},{"g":"M","x":0.23,"y":-0.13},{"g":"M","x":0.26,"y":-0.23},{"g":"M","x":0.25,"y":-0.35},{"g":"M","x":0.29,"y":-0.47},{"g":"M","x":0.65,"y":-0.92},{"g":"M","x":0.3,"y":0.1},{"g":"M","x":0.45,"y":0.3},{"g":"M","x":0.5,"y":0.4},{"g":"M","x":0.55,"y":0.45},{"g":"M","x":0.6,"y":0.5},{"g":"M","x":0.4,"y":0.1},{"g":"M","x":0.1,"y":-0.3},{"g":"M","x":0.05,"y":-0.45},{"g":"M","x":0.0,"y":-0.7},{"g":"M","x":0.05,"y":-0.9},{"g":"M","x":0.15,"y":-0.8},{"g":"M","x":0.3,"y":-0.85},{"g":"M","x":0.6,"y":-0.75},{"g":"M","x":0.7,"y":-0.6},{"g":"M","x":0.8,"y":-0.3},{"g":"M","x":0.9,"y":-0.3},{"g":"M","x":0.95,"y":0.05},{"g":"M","x":1.0,"y":0.2},{"g":"M","x":0.7,"y":0.0},{"g":"M","x":0.6,"y":-0.05},{"g":"M","x":0.5,"y":0.15},{"g":"M","x":0.35,"y":-0.5},{"g":"M","x":0.45,"y":-0.45},{"g":"M","x":0.57,"y":-0.4},
{"g":"M","x":0.3,"y":-0.2},{"g":"M","x":0.32,"y":-0.05},{"g":"M","x":0.42,"y":0.0},{"g":"M","x":0.43,"y":-0.25},{"g":"M","x":0.48,"y":0.1},{"g":"M","x":0.5,"y":-0.15},{"g":"M","x":0.53,"y":-0.45},{"g":"M","x":0.58,"y":0.25},{"g":"M","x":0.62,"y":-0.35},{"g":"M","x":0.63,"y":0.3},{"g":"M","x":0.66,"y":-0.1},{"g":"M","x":0.68,"y":0.35},{"g":"M","x":0.7,"y":-0.3},{"g":"M","x":0.72,"y":0.1},{"g":"M","x":0.76,"y":0.15},{"g":"M","x":0.78,"y":-0.25},{"g":"M","x":0.8,"y":0.2},{"g":"M","x":0.82,"y":-0.35},{"g":"M","x":0.85,"y":0.35},{"g":"M","x":0.88,"y":-0.25},{"g":"M","x":0.92,"y":-0.05},{"g":"M","x":0.95,"y":0.3},{"g":"M","x":0.4,"y":-0.6},{"g":"M","x":0.45,"y":-0.65},{"g":"M","x":0.52,"y":-0.8},{"g":"M","x":0.6,"y":-0.65},{"g":"M","x":0.28,"y":-0.75},{"g":"M","x":0.2,"y":-0.8},{"g":"M","x":0.12,"y":-0.4},{"g":"M","x":0.15,"y":-0.2}
]},
"vconcat":[
{"title":{"text":"A","dx":-201},
 "width":854,"height":437,
 "layer":[
  {"data":{"name":"ptsA"},
   "mark":{"type":"point","shape":"M0,-1A0.75,1,0,1,1,0,1A0.75,1,0,1,1,0,-1Z","filled":false,"size":150,"strokeWidth":1.3,"opacity":0.85},
   "encoding":{
    "x":{"field":"x","type":"quantitative","scale":{"domain":[-1.1,1.6],"nice":false,"zero":false},
      "axis":{"title":"Log10 (Vegetative biomass)(g)","values":[-1,-0.5,0,0.5,1,1.5],"labelExpr":"replace(format(datum.value,'.1f'),'\u2212','-')","tickSize":19,"labelFont":"Liberation Sans","labelFontSize":24,"labelPadding":29,"titleFont":"Liberation Sans","titleFontSize":25,"titlePadding":42}},
    "y":{"field":"y","type":"quantitative","scale":{"domain":[-2.12,1.11],"nice":false,"zero":false},
      "axis":{"title":"Log10 (Reproductive biomass) (g)","values":[-2,-1.5,-1,-0.5,0,0.5,1],"labelExpr":"datum.value % 1 == 0 ? replace(format(datum.value,'.1f'),'\u2212','-') : ''","tickSize":17,"labelAngle":-90,"labelAlign":"center","labelBaseline":"alphabetic","labelFont":"Liberation Sans","labelFontSize":27,"labelPadding":18,"titleFont":"Liberation Sans","titleFontSize":31,"titlePadding":30}},
    "color":{"field":"g","type":"nominal","scale":{"domain":["E","M","L","A"],"range":["#ff0000","#0000ff","#00ff00","#000000"]},"legend":null}}},
  {"data":{"name":"linA"},
   "mark":{"type":"line","strokeWidth":5,"strokeCap":"round"},
   "encoding":{"x":{"field":"x","type":"quantitative"},"y":{"field":"y","type":"quantitative"},"color":{"field":"g","type":"nominal","legend":null}}}
 ]},
{"title":{"text":"B","dx":-201,"offset":16},
 "width":854,"height":440,
 "layer":[
  {"data":{"name":"ptsB"},
   "mark":{"type":"point","shape":"M0,-1A0.75,1,0,1,1,0,1A0.75,1,0,1,1,0,-1Z","filled":false,"size":150,"strokeWidth":1.3,"opacity":0.85},
   "encoding":{
    "x":{"field":"x","type":"quantitative","scale":{"domain":[-1.1,1.6],"nice":false,"zero":false},
      "axis":{"title":"Log10 (Aboveground biomass)(g)","values":[-1,-0.5,0,0.5,1,1.5],"labelExpr":"replace(format(datum.value,'.1f'),'\u2212','-')","tickSize":19,"labelFont":"Liberation Sans","labelFontSize":24,"labelPadding":29,"titleFont":"Liberation Sans","titleFontSize":25,"titlePadding":42}},
    "y":{"field":"y","type":"quantitative","scale":{"domain":[-2.11,1.117],"nice":false,"zero":false},
      "axis":{"title":"Log10 (Belowground biomass) (g)","values":[-2,-1.5,-1,-0.5,0,0.5,1],"labelExpr":"datum.value % 1 == 0 ? replace(format(datum.value,'.1f'),'\u2212','-') : ''","tickSize":17,"labelAngle":-90,"labelAlign":"center","labelBaseline":"alphabetic","labelFont":"Liberation Sans","labelFontSize":27,"labelPadding":18,"titleFont":"Liberation Sans","titleFontSize":31,"titlePadding":30}},
    "color":{"field":"g","type":"nominal","scale":{"domain":["E","M","L","A"],"range":["#ff0000","#0000ff","#00ff00","#000000"]},
      "legend":{"orient":"none","legendX":978,"legendY":471,"title":null,"padding":0,"symbolType":"M-1.6,0H-0.43M0.43,0H1.6M0,-0.43L0.43,0L0,0.43L-0.43,0Z","symbolSize":529,"symbolStrokeWidth":2,"symbolFillColor":"transparent","symbolOpacity":1,"labelOffset":23,"rowPadding":7,"labelFont":"Liberation Sans","labelFontSize":21,"labelColor":"#222","labelExpr":"datum.label=='E'?'Early':datum.label=='M'?'Middle':datum.label=='L'?'Late':'All'"}}}},
  {"data":{"name":"linB"},
   "mark":{"type":"line","strokeWidth":5,"strokeCap":"round"},
   "encoding":{"x":{"field":"x","type":"quantitative"},"y":{"field":"y","type":"quantitative"},"color":{"field":"g","type":"nominal"}}}
 ]}
]
}
